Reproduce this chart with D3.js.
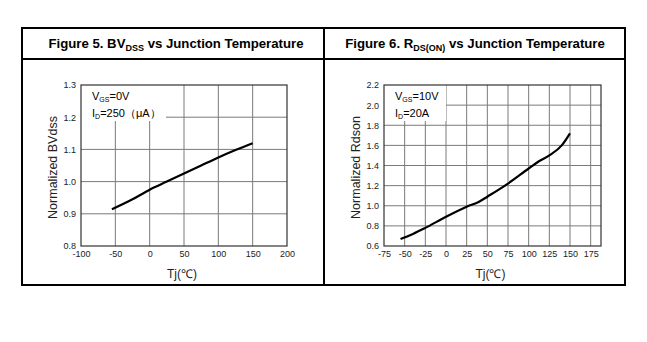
<!DOCTYPE html>
<html><head><meta charset="utf-8">
<script src="https://cdn.jsdelivr.net/npm/d3@7"></script>
<style>body{margin:0;background:#fff}svg{display:block}text{font-family:"Liberation Sans",Arial,sans-serif}</style>
</head><body>
<script>
// Figure 5 data
const bvTemp = [-55, -25, 0, 25, 50, 75, 100, 125, 150];
const bvVals = [0.914, 0.945, 0.975, 1.0, 1.025, 1.05, 1.075, 1.098, 1.119];
const bvXTicks = [-100, -50, 0, 50, 100, 150, 200];
const bvYTicks = [0.8, 0.9, 1.0, 1.1, 1.2, 1.3];
// Figure 6 data
const rdsTemp = [-55, -40, -25, 0, 25, 40, 50, 75, 100, 112, 125, 140, 150];
const rdsVals = [0.67, 0.72, 0.78, 0.89, 0.99, 1.04, 1.09, 1.22, 1.37, 1.44, 1.50, 1.60, 1.72];
const rdsXTicks = [-75, -50, -25, 0, 25, 50, 75, 100, 125, 150, 175];
const rdsYTicks = [0.6, 0.8, 1.0, 1.2, 1.4, 1.6, 1.8, 2.0, 2.2];

const W = 647, H = 342;
const svg = d3.select("body").append("svg").attr("width", W).attr("height", H);

// table frame
const T = {l: 22, r: 625, t: 28, mid: 59, b: 285, c: 324};
const frame = svg.append("g").attr("stroke", "#000").attr("stroke-width", 2).attr("fill", "none");
frame.append("rect").attr("x", T.l).attr("y", T.t).attr("width", T.r - T.l).attr("height", T.b - T.t);
frame.append("line").attr("x1", T.l).attr("x2", T.r).attr("y1", T.mid).attr("y2", T.mid);
frame.append("line").attr("x1", T.c).attr("x2", T.c).attr("y1", T.t).attr("y2", T.b);

function title(cx, main, sub, rest) {
  const t = svg.append("text").attr("x", cx).attr("y", 48).attr("text-anchor", "middle")
    .attr("font-weight", "bold").attr("font-size", 13.2).attr("fill", "#000");
  t.append("tspan").text(main);
  t.append("tspan").attr("font-size", 9).attr("dy", 3).text(sub);
  t.append("tspan").attr("dy", -3).text(rest);
}
title(176, "Figure 5. BV", "DSS", " vs Junction Temperature");
title(475, "Figure 6. R", "DS(ON)", " vs Junction Temperature");

const hyph = f => d => f(d).replace("\u2212", "-");

function chart(o) {
  const x = d3.scaleLinear().domain(o.xd).range([o.x0, o.x1]);
  const y = d3.scaleLinear().domain(o.yd).range([o.y1, o.y0]);
  const g = svg.append("g");
  // grid
  g.append("g").selectAll("line").data(o.xTicks.filter(v => v > o.xd[0] && v < o.xd[1])).join("line")
    .attr("x1", d => x(d)).attr("x2", d => x(d)).attr("y1", o.y0).attr("y2", o.y1)
    .attr("stroke", "#7a7a7a").attr("stroke-width", 1);
  g.append("g").selectAll("line").data(o.yTicks.filter(v => v > o.yd[0] + 1e-9 && v < o.yd[1] - 1e-9)).join("line")
    .attr("x1", o.x0).attr("x2", o.x1).attr("y1", d => y(d)).attr("y2", d => y(d))
    .attr("stroke", "#7a7a7a").attr("stroke-width", 1);
  // annotation white box
  g.append("rect").attr("x", o.x0).attr("y", o.y0).attr("width", o.boxW).attr("height", o.boxH).attr("fill", "#fff");
  // border
  g.append("rect").attr("x", o.x0).attr("y", o.y0).attr("width", o.x1 - o.x0).attr("height", o.y1 - o.y0)
    .attr("fill", "none").attr("stroke", "#333").attr("stroke-width", 1.2);
  // axes labels via d3 axes (no lines)
  const xa = g.append("g").attr("transform", `translate(0,${o.y1})`)
    .call(d3.axisBottom(x).tickValues(o.xTicks).tickSize(0).tickPadding(5).tickFormat(hyph(d3.format("d"))));
  const ya = g.append("g").attr("transform", `translate(${o.x0},0)`)
    .call(d3.axisLeft(y).tickValues(o.yTicks).tickSize(0).tickPadding(5).tickFormat(hyph(d3.format(".1f"))));
  [xa, ya].forEach(a => { a.select(".domain").remove(); a.selectAll("text").attr("font-size", 9).attr("fill", "#222")
    .attr("font-family", "'Liberation Sans',Arial,sans-serif"); });
  // curve
  const line = d3.line().x(d => x(d[0])).y(d => y(d[1])).curve(d3.curveMonotoneX);
  g.append("path").datum(o.tx.map((t, i) => [t, o.vals[i]])).attr("d", line)
    .attr("fill", "none").attr("stroke", "#000").attr("stroke-width", 2.2);
  // annotations
  const a1 = g.append("text").attr("x", o.x0 + 11).attr("y", o.y0 + 15).attr("font-size", 11).attr("fill", "#000");
  a1.append("tspan").text("V");
  a1.append("tspan").attr("font-size", 7).attr("dy", 2).text("GS");
  a1.append("tspan").attr("dy", -2).text(o.ann1);
  const a2 = g.append("text").attr("x", o.x0 + 11).attr("y", o.y0 + 32).attr("font-size", 11).attr("fill", "#000");
  a2.append("tspan").text("I");
  a2.append("tspan").attr("font-size", 7).attr("dy", 2).text("D");
  a2.append("tspan").attr("dy", -2).text(o.ann2);
  // axis titles
  svg.append("text").attr("transform", `translate(${o.ytx},${(o.y0 + o.y1) / 2 + 2}) rotate(-90)`)
    .attr("text-anchor", "middle").attr("font-size", 12.5).attr("fill", "#222").text(o.ytitle);
  svg.append("text").attr("x", (o.x0 + o.x1) / 2 - 2).attr("y", 278).attr("text-anchor", "middle")
    .attr("font-size", 12).attr("fill", "#222")
    .attr("font-family", "'Liberation Sans','Noto Sans CJK SC',sans-serif").text("Tj(℃)");
}

chart({x0: 81, x1: 287, y0: 85, y1: 246, xd: [-100, 200], yd: [0.8, 1.3],
  xTicks: bvXTicks, yTicks: bvYTicks, tx: bvTemp, vals: bvVals, boxW: 85, boxH: 36,
  ann1: "=0V", ann2: "=250（μA）", ytitle: "Normalized  BVdss", ytx: 57});
chart({x0: 384, x1: 601, y0: 85, y1: 246, xd: [-75, 187.5], yd: [0.6, 2.2],
  xTicks: rdsXTicks, yTicks: rdsYTicks, tx: rdsTemp, vals: rdsVals, boxW: 62, boxH: 36,
  ann1: "=10V", ann2: "=20A", ytitle: "Normalized  Rdson", ytx: 360});
</script>
</body></html>
